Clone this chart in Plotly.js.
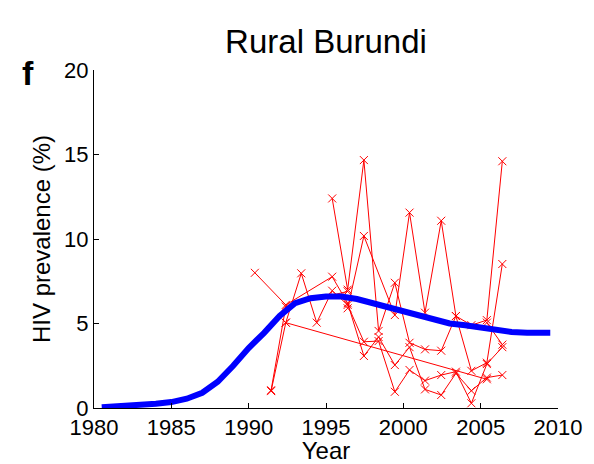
<!DOCTYPE html>
<html>
<head>
<meta charset="utf-8">
<script src="https://cdn.plot.ly/plotly-3.0.1.min.js"></script>
<style>html,body{margin:0;padding:0;background:#fff;}#chart{width:594px;height:464px;}</style>
</head>
<body>
<div id="chart"></div>
<script>
// Model fit (blue curve)
const fitYears = [1980.5,1981,1982,1983,1984,1985,1986,1987,1988,1989,1990,1991,1992,1993,1994,1995,1996,1997,1998,1999,2000,2001,2002,2003,2004,2005,2006,2007,2008,2009,2009.5];
const fitValues = [0.05,0.07,0.1,0.17,0.25,0.35,0.55,0.9,1.55,2.5,3.55,4.45,5.45,6.2,6.5,6.6,6.6,6.45,6.2,5.95,5.7,5.45,5.2,5.0,4.9,4.75,4.6,4.5,4.45,4.45,4.45];

// Antenatal clinic sites (red)
const site1Years = [1995.4,1996.4,1997.45,1998.4,1999.45,2000.4,2001.4,2002.45,2003.4,2004.4,2005.4,2006.4];
const site1Values = [12.4,7.0,14.67,4.56,7.41,3.86,3.47,3.39,5.44,2.2,2.68,8.52];
const site2Years = [1996.4,1997.45,1999.45,2000.4,2001.4,2002.45,2003.4,2004.4,2005.4,2006.4];
const site2Values = [5.9,10.18,5.5,11.56,5.64,11.08,5.44,4.9,5.2,14.6];
const site3Years = [1991.45,1992.4,1993.4,1994.4,1995.4,1996.4,1997.45,1998.4,1999.45,2000.4,2001.4,2002.45,2003.4,2004.4,2005.4,2006.4];
const site3Values = [1.0,5.05,7.97,5.05,6.94,6.1,3.92,3.96,0.96,2.25,1.62,1.95,2.15,0.28,2.6,3.6];
const site4Years = [1990.4,1992.4,1995.4,1996.4,1997.45,1998.4,1999.45,2000.4,2001.4,2002.45,2003.4,2004.4,2005.4,2006.4];
const site4Values = [8.0,6.1,7.77,6.2,3.08,4.2,2.54,3.6,1.1,0.77,2.05,1.02,1.8,1.95];
const site5Years = [1991.45,1992.4,1996.4];
const site5Values = [1.05,6.0,6.9];
const site6Years = [1992.4,2005.4];
const site6Values = [5.05,1.7];
const site7Years = [2005.4,2006.4];
const site7Values = [5.05,3.75];

const xTicks = [1980,1985,1990,1995,2000,2005,2010];
const yTicks = [0,5,10,15,20];

const sites = [
  [site1Years, site1Values],[site2Years, site2Values],[site3Years, site3Values],
  [site4Years, site4Values],[site5Years, site5Values],[site6Years, site6Values],[site7Years, site7Values]
];

const traces = sites.map(s => ({
  x: s[0], y: s[1], type: 'scatter', mode: 'lines+markers',
  line: {color: '#ff0000', width: 1},
  marker: {symbol: 'x-thin', size: 8, line: {color: '#ff0000', width: 1}, color: '#ff0000'},
  hoverinfo: 'skip', showlegend: false, cliponaxis: false
}));
traces.push({
  x: fitYears, y: fitValues, type: 'scatter', mode: 'lines',
  line: {color: '#0000ff', width: 6}, showlegend: false, cliponaxis: false
});

const font = 'Liberation Sans, Arial, Helvetica, sans-serif';
const layout = {
  width: 594, height: 464,
  margin: {l: 94, r: 36, t: 70, b: 56},
  paper_bgcolor: '#fff', plot_bgcolor: '#fff',
  font: {family: font, color: '#000', size: 22},
  title: {text: 'Rural Burundi', x: 0.5, xanchor: 'center', xref: 'paper', y: 1 - 41/464, yanchor: 'middle', yref: 'container', font: {size: 33, family: font, color: '#000'}},
  xaxis: {
    range: [1980, 2010], tickvals: xTicks, ticktext: xTicks.map(String),
    ticks: 'inside', ticklen: 5, tickcolor: '#000', showline: true, linecolor: '#000', linewidth: 1,
    showgrid: false, zeroline: false, tickfont: {size: 22, family: font},
    title: {text: 'Year', font: {size: 24, family: font}, standoff: 3}
  },
  yaxis: {
    range: [0, 20], tickvals: yTicks, ticktext: yTicks.map(String),
    ticks: 'inside', ticklen: 5, tickcolor: '#000', showline: true, linecolor: '#000', linewidth: 1,
    showgrid: false, zeroline: false, tickfont: {size: 22, family: font},
    title: {text: 'HIV prevalence (%)', font: {size: 24, family: font}, standoff: 6}
  },
  annotations: [{
    text: '<b>f</b>', xref: 'paper', yref: 'paper', x: -0.143, y: 0.991, xanchor: 'center', yanchor: 'middle',
    showarrow: false, font: {size: 34, family: font, color: '#000'}
  }]
};

Plotly.newPlot('chart', traces, layout, {staticPlot: true, displayModeBar: false});
</script>
</body>
</html>
